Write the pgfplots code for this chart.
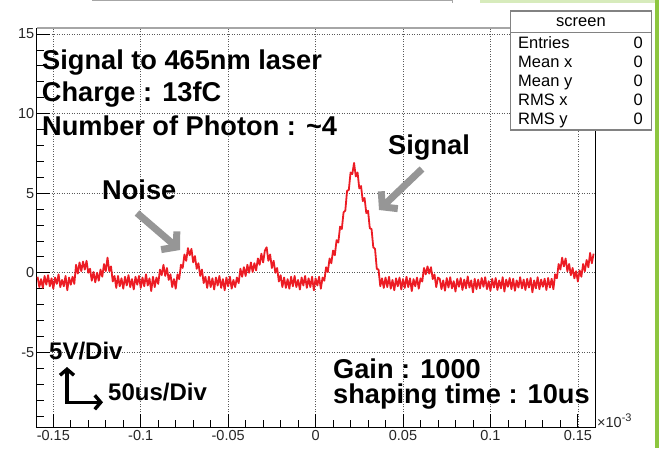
\documentclass[border=0pt]{standalone}
\usepackage{pgfplots}
\pgfplotsset{compat=1.18}
\usepackage{fontspec}
\setmainfont{Liberation Sans}
\usetikzlibrary{arrows.meta}
\definecolor{trace}{RGB}{236,28,36}
\definecolor{arrowgray}{RGB}{150,150,150}
\definecolor{slidegreen}{RGB}{141,198,63}
\definecolor{boxgray}{RGB}{130,130,130}
\newcommand{\annfont}{\fontsize{27.2}{30}\selectfont\bfseries}
\newcommand{\midfont}{\fontsize{24}{28}\selectfont\bfseries}
\newcommand{\statfont}{\fontsize{16.5}{18}\selectfont}

\begin{document}
\begin{tikzpicture}
\path[use as bounding box] (0pt,0pt) rectangle (659pt,448pt);
% slide decorations
\fill[slidegreen] (655pt,0pt) rectangle (659pt,448pt);
\fill[slidegreen!35] (480pt,445pt) rectangle (655pt,448pt);
\draw[gray!70, line width=1pt] (92pt,447pt) -- (452pt,447pt) -- (452pt,445pt);

\begin{axis}[
 at={(36.7pt,20.7pt)}, anchor=south west,
 scale only axis, width=558.3pt, height=399.3pt,
 xmin=-0.1595, xmax=0.1598, ymin=-9.71, ymax=15.38,
 xtick={-0.15,-0.1,-0.05,0,0.05,0.1,0.15},
 xticklabels={-0.15,-0.1,-0.05,0,0.05,0.1,0.15},
 ytick={-5,0,5,10,15}, yticklabels={-5,0,5,10,15},
 minor xtick={-0.15,-0.14,-0.13,-0.12,-0.11,-0.1,-0.09,-0.08,-0.07,-0.06,-0.05,-0.04,-0.03,-0.02,-0.01,0,0.01,0.02,0.03,0.04,0.05,0.06,0.07,0.08,0.09,0.1,0.11,0.12,0.13,0.14,0.15},
 minor ytick={-9,-8,-7,-6,-5,-4,-3,-2,-1,0,1,2,3,4,5,6,7,8,9,10,11,12,13,14,15},
 tick pos=left,
 tick align=inside,
 major tick length=13pt, minor tick length=7pt,
 every tick/.style={black, line width=0.8pt},
 xmajorgrids, ymajorgrids,
 grid style={dash pattern=on 1pt off 1.5pt, black!65, line width=0.7pt},
 axis line style={black, line width=0.9pt},
 tick label style={font=\fontsize{14.5}{14.5}\selectfont, text=black!85},
 yticklabel style={xshift=1pt},
 scaled x ticks=false, scaled y ticks=false,
]
\addplot[trace, line width=1.8pt, line join=round] table[x expr=\thisrow{k}/1000, y=v] {
k v
-159 -0.25
-158 -0.90
-157 -0.40
-156 -0.95
-155 -0.20
-154 -0.75
-153 -0.15
-152 -0.85
-151 -0.35
-150 -1.00
-149 -0.30
-148 -0.70
-147 -0.10
-146 -0.90
-145 -0.45
-144 -0.85
-143 -0.20
-142 -1.10
-141 -0.30
-140 -0.75
-139 -0.25
-138 -0.70
-137 0.50
-136 -0.05
-135 0.65
-134 0.10
-133 0.70
-132 0.20
-131 0.75
-130 0.00
-129 0.25
-128 -0.50
-127 0.05
-126 -0.60
-125 0.00
-124 -0.50
-123 0.20
-122 -0.25
-121 0.55
-120 0.10
-119 0.95
-118 0.10
-117 0.40
-116 -0.55
-115 -0.20
-114 -0.95
-113 -0.20
-112 -0.85
-111 -0.35
-110 -1.00
-109 -0.25
-108 -0.80
-107 -0.15
-106 -0.90
-105 -0.40
-104 -1.05
-103 -0.25
-102 -0.75
-101 -0.20
-100 -0.95
-99 -0.30
-98 -0.85
-97 -0.10
-96 -0.80
-95 -0.35
-94 -1.15
-93 -0.25
-92 -0.90
-91 -0.30
-90 -0.70
-89 0.20
-88 -0.15
-87 0.50
-86 -0.20
-85 0.30
-84 -0.45
-83 -0.10
-82 -0.90
-81 -0.40
-80 -1.00
-79 -0.10
-78 -0.40
-77 0.50
-76 0.30
-75 1.15
-74 0.75
-73 1.55
-72 1.10
-71 1.50
-70 0.65
-69 1.05
-68 0.25
-67 0.60
-66 -0.20
-65 0.20
-64 -0.65
-63 -0.25
-62 -0.95
-61 -0.25
-60 -0.90
-59 -0.35
-58 -1.05
-57 -0.30
-56 -0.80
-55 -0.20
-54 -0.95
-53 -0.40
-52 -1.10
-51 -0.30
-50 -0.85
-49 -0.25
-48 -1.00
-47 -0.45
-46 -0.90
-45 -0.30
-44 -0.65
-43 0.25
-42 -0.25
-41 0.35
-40 -0.20
-39 0.50
-38 0.00
-37 0.65
-36 0.05
-35 0.60
-34 0.15
-33 0.90
-32 0.50
-31 1.20
-30 0.65
-29 1.40
-28 1.60
-27 0.75
-26 1.15
-25 0.30
-24 0.75
-23 0.00
-22 0.30
-21 -0.55
-20 -0.15
-19 -0.90
-18 -0.30
-17 -0.95
-16 -0.40
-15 -1.00
-14 -0.25
-13 -0.85
-12 -0.20
-11 -0.90
-10 -0.45
-9 -1.05
-8 -0.30
-7 -0.80
-6 -0.20
-5 -0.95
-4 -0.35
-3 -0.90
-2 -0.25
-1 -1.10
0 -0.35
1 -0.80
2 -0.25
3 -1.00
4 -0.30
5 -0.50
6 0.35
7 0.05
8 0.90
9 0.60
10 1.40
11 1.10
12 2.05
13 1.90
14 2.90
15 2.75
16 3.80
17 3.90
18 5.15
19 5.20
20 6.30
21 6.20
22 6.90
23 6.05
24 6.30
25 5.30
26 5.45
27 4.50
28 4.70
29 3.75
30 3.90
31 2.80
32 2.75
33 1.60
34 1.50
35 0.25
36 0.20
37 -0.85
38 -0.35
39 -0.95
40 -0.30
41 -0.90
42 -0.25
43 -1.00
44 -0.45
45 -1.10
46 -0.35
47 -0.85
48 -0.30
49 -1.05
50 -0.40
51 -0.95
52 -0.25
53 -0.90
54 -0.35
55 -1.15
56 -0.40
57 -0.85
58 -0.30
59 -1.00
60 -0.35
61 -0.55
62 0.30
63 -0.10
64 0.40
65 -0.05
66 0.35
67 -0.40
68 -0.10
69 -0.90
70 -0.30
71 -0.38
72 -1.03
73 -0.48
74 -1.13
75 -0.33
76 -0.93
77 -0.28
78 -0.98
79 -0.53
80 -1.18
81 -0.38
82 -0.88
83 -0.33
84 -1.08
85 -0.43
86 -0.98
87 -0.23
88 -0.93
89 -0.48
90 -1.23
91 -0.38
92 -1.03
93 -0.43
94 -0.98
95 -0.33
96 -0.88
97 -0.28
98 -1.03
99 -0.53
100 -1.13
101 -0.38
102 -0.93
103 -0.33
104 -1.08
105 -0.48
106 -0.98
107 -0.28
108 -1.18
109 -0.43
110 -0.88
111 -0.33
112 -1.03
113 -0.38
114 -1.13
115 -0.48
116 -0.93
117 -0.28
118 -0.98
119 -0.43
120 -1.08
121 -0.38
122 -0.93
123 -0.33
124 -1.23
125 -0.48
126 -0.98
127 -0.28
128 -1.03
129 -0.43
130 -0.88
131 -0.38
132 -1.08
133 -0.33
134 -0.93
135 -0.38
136 -1.03
137 -0.10
138 -0.35
139 0.55
140 0.20
141 0.95
142 0.40
143 0.90
144 0.10
145 0.55
146 -0.15
147 0.30
148 -0.35
149 0.10
150 -0.55
151 0.15
152 -0.25
153 0.55
154 0.10
155 0.80
156 0.35
157 1.25
158 0.60
159 1.20
};
\end{axis}

% gray top frame line
\draw[gray!70, line width=1.6pt] (36.7pt,420pt) -- (595pt,420pt);

% exponent
\node[anchor=base west, inner sep=0pt, text=black!85] at (597pt,21pt) {\fontsize{14.5}{14.5}\selectfont ×10\raisebox{6pt}{\fontsize{11}{11}\selectfont -3}};

% statistics box
\filldraw[fill=white, draw=boxgray, line width=1.2pt] (510.3pt,318pt) rectangle (651.7pt,437pt);
\draw[boxgray, line width=1.2pt] (510.3pt,415.7pt) -- (651.7pt,415.7pt);
\node[anchor=base, inner sep=0pt] at (581pt,421.3pt) {\statfont screen};
\node[anchor=base west, inner sep=0pt] at (518pt,399pt) {\statfont Entries};
\node[anchor=base west, inner sep=0pt] at (518pt,380.5pt) {\statfont Mean x};
\node[anchor=base west, inner sep=0pt] at (518pt,361.5pt) {\statfont Mean y};
\node[anchor=base west, inner sep=0pt] at (518pt,342pt) {\statfont RMS x};
\node[anchor=base west, inner sep=0pt] at (518pt,323pt) {\statfont RMS y};
\foreach \yy in {399,380.5,361.5,342,323} {
  \node[anchor=base east, inner sep=0pt] at (643pt,\yy pt) {\statfont 0};
}

% annotations
\node[anchor=base west, inner sep=0pt] at (42pt,378pt) {\annfont Signal to 465nm laser};
\node[anchor=base west, inner sep=0pt] at (41.7pt,346.3pt) {\annfont Charge : 13fC};
\node[anchor=base west, inner sep=0pt] at (42pt,312pt) {\annfont Number of Photon : \textasciitilde4};
\node[anchor=base west, inner sep=0pt] at (102pt,248pt) {\annfont Noise};
\node[anchor=base west, inner sep=0pt] at (388pt,293pt) {\annfont Signal};
\node[anchor=base west, inner sep=0pt] at (49pt,89pt) {\midfont 5V/Div};
\node[anchor=base west, inner sep=0pt] at (108pt,47.3pt) {\midfont 50us/Div};
\node[anchor=base west, inner sep=0pt] at (333pt,69.7pt) {\annfont Gain : 1000};
\node[anchor=base west, inner sep=0pt] at (333pt,44.7pt) {\annfont shaping time : 10us};

% gray arrows
\draw[arrowgray, line width=7pt, -{Straight Barb[length=10pt,width=24pt]}] (137pt,235pt) -- (180pt,198pt);
\draw[arrowgray, line width=7pt, -{Straight Barb[length=10pt,width=24pt]}] (422pt,279pt) -- (379pt,238pt);

% scale arrows
\draw[black, line width=3.4pt, line join=miter, {Straight Barb[length=6pt,width=14pt]}-{Straight Barb[length=6pt,width=14pt]}] (67pt,81pt) -- (67pt,45.7pt) -- (103pt,45.7pt);
\end{tikzpicture}
\end{document}
